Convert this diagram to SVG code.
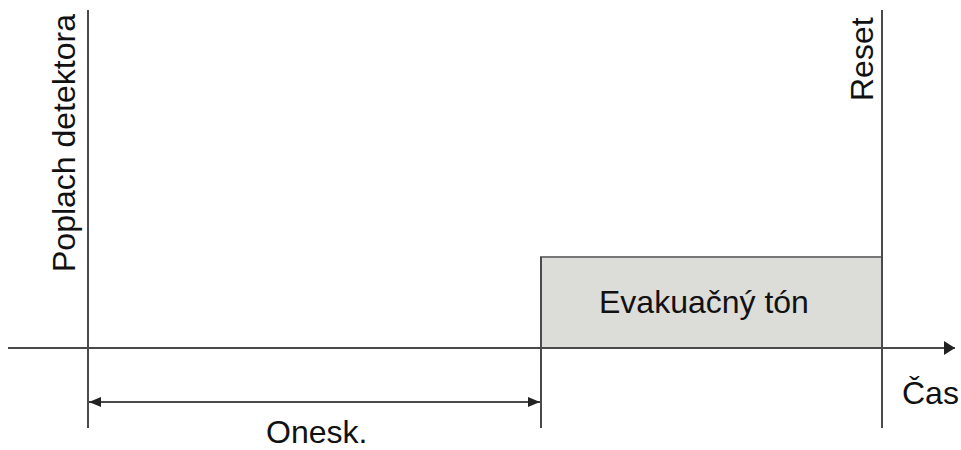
<svg xmlns="http://www.w3.org/2000/svg" width="961" height="450" viewBox="0 0 961 450">
<style>
.ln{stroke:#4a4a4a;stroke-width:2;fill:none}
.t{font-family:"Liberation Sans",Arial,sans-serif;font-size:32px;fill:#111}
</style>
<defs>
<marker id="ah" viewBox="0 0 12 10" refX="12" refY="5" markerWidth="12" markerHeight="10" markerUnits="userSpaceOnUse" orient="auto-start-reverse">
<path d="M0,0 L12,5 L0,10 Z" fill="#222"/>
</marker>
<marker id="ax" viewBox="0 0 11 14" refX="11" refY="7" markerWidth="11" markerHeight="14" markerUnits="userSpaceOnUse" orient="auto">
<path d="M0,0 L11,7 L0,14 Z" fill="#222"/>
</marker>
</defs>
<rect width="961" height="450" fill="#fff"/>
<g id="evak">
<rect x="541" y="257" width="341" height="91" fill="#dcdcd8" stroke="#777" stroke-width="2"/>
<text class="t" x="599" y="313">Evakuačný tón</text>
</g>
<g id="connectors">
<line class="ln" x1="8" y1="348" x2="955" y2="348" marker-end="url(#ax)"/>
<line class="ln" x1="88" y1="10" x2="88" y2="428"/>
<line class="ln" x1="541" y1="257" x2="541" y2="428"/>
<line class="ln" x1="882" y1="10" x2="882" y2="428"/>
<line class="ln" x1="89" y1="402" x2="540" y2="402" marker-start="url(#ah)" marker-end="url(#ah)"/>
</g>
<g id="poplach">
<text class="t" transform="translate(75,272) rotate(-90)">Poplach detektora</text>
</g>
<g id="reset">
<text class="t" transform="translate(873,101) rotate(-90)">Reset</text>
</g>
<g id="onesk">
<text class="t" x="266" y="443">Onesk.</text>
</g>
<g id="cas">
<text class="t" x="902" y="404">Čas</text>
</g>
</svg>
